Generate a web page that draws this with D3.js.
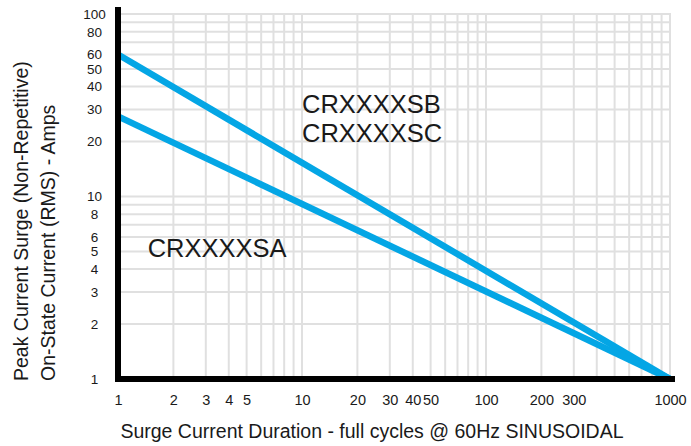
<!DOCTYPE html>
<html>
<head>
<meta charset="utf-8">
<script src="https://cdn.jsdelivr.net/npm/d3@7"></script>
<style>
  html, body { margin: 0; padding: 0; background: #ffffff; }
  svg { display: block; }
  text { font-family: "Liberation Sans", Arial, sans-serif; fill: #1a1a1a; }
</style>
</head>
<body>
<svg id="chart" width="691" height="446"></svg>
<script>
// ---- data ----
const xTickLabels = [1, 2, 3, 4, 5, 10, 20, 30, 40, 50, 100, 200, 300, 1000];
const yTickLabels = [1, 2, 3, 4, 5, 6, 8, 10, 20, 30, 40, 50, 60, 80, 100];
const seriesNames = ["CRXXXXSB / CRXXXXSC", "CRXXXXSA"];
const seriesCycles = [1, 1000];
const seriesSB_SC = [60, 1];
const seriesSA = [27.5, 1];
const lineLabels = ["CRXXXXSB", "CRXXXXSC", "CRXXXXSA"];
const xTitle = "Surge Current Duration - full cycles @ 60Hz SINUSOIDAL";
const yTitle = ["Peak Current Surge (Non-Repetitive)", "On-State Current (RMS) - Amps"];

// ---- layout ----
const W = 691, H = 446;
const L = 118, R = 670, T = 14, B = 379;
const svg = d3.select("#chart");

const x = d3.scaleLog().domain([1, 1000]).range([L, R]);
const y = d3.scaleLog().domain([1, 100]).range([B, T]);

// minor grid values 1..9 per decade
function gridVals(maxV) {
  const v = [];
  for (let d = 1; d < maxV; d *= 10) for (let k = 1; k <= 9; k++) v.push(k * d);
  v.push(maxV);
  return v;
}
const gx = gridVals(1000), gy = gridVals(100);

const grid = svg.append("g").attr("stroke", "#e0e0e0").attr("stroke-width", 2);
grid.selectAll("line.v").data(gx.filter(d => d > 1)).join("line")
  .attr("class", "v")
  .attr("x1", d => x(d)).attr("x2", d => x(d))
  .attr("y1", T - 1).attr("y2", B);
grid.selectAll("line.h").data(gy.filter(d => d > 1)).join("line")
  .attr("class", "h")
  .attr("x1", L).attr("x2", R + 1)
  .attr("y1", d => y(d)).attr("y2", d => y(d));

// series lines
const lineGen = d3.line().x(d => x(d[0])).y(d => y(d[1]));
const series = [seriesSB_SC, seriesSA].map(vals => seriesCycles.map((c, i) => [c, vals[i]]));
svg.append("g").selectAll("path").data(series).join("path")
  .attr("d", lineGen)
  .attr("fill", "none")
  .attr("stroke", "#04a6e5")
  .attr("stroke-width", 6.5);

// thick axis lines
svg.append("line").attr("x1", x(1)).attr("x2", x(1)).attr("y1", 7).attr("y2", B + 3)
  .attr("stroke", "#000").attr("stroke-width", 6);
svg.append("line").attr("x1", x(1) - 3).attr("x2", R + 5).attr("y1", B).attr("y2", B)
  .attr("stroke", "#000").attr("stroke-width", 6);

// tick labels via d3 axes
const xAxis = d3.axisBottom(x).tickValues(xTickLabels).tickFormat(d3.format("d")).tickSize(0).tickPadding(0);
const gxA = svg.append("g").attr("transform", `translate(0,${B + 16})`).call(xAxis);
gxA.select(".domain").remove();
gxA.selectAll("text").attr("font-size", 14.5).attr("font-family", null).attr("fill", "#1a1a1a");

const yAxis = d3.axisLeft(y).tickValues(yTickLabels).tickFormat(d3.format("d")).tickSize(0).tickPadding(0);
const gyA = svg.append("g").attr("transform", `translate(94.5,0)`).call(yAxis);
gyA.select(".domain").remove();
gyA.selectAll("text").attr("font-size", 13.5).attr("font-family", null).attr("fill", "#1a1a1a")
  .attr("text-anchor", "middle");

// axis titles
svg.append("text").attr("x", 372).attr("y", 438).attr("text-anchor", "middle")
  .attr("font-size", 19.5).text(xTitle);
yTitle.forEach((t, i) => {
  svg.append("text").attr("transform", `translate(${28 + i * 27},381) rotate(-90)`)
    .attr("text-anchor", "start").attr("font-size", 19.5).text(t);
});

// line labels (positioned in data coordinates)
const lab = [
  { t: lineLabels[0], cx: 10, cy: 28.7 },
  { t: lineLabels[1], cx: 10, cy: 20 },
  { t: lineLabels[2], cx: 1.45, cy: 4.68 }
];
svg.append("g").selectAll("text").data(lab).join("text")
  .attr("x", d => x(d.cx)).attr("y", d => y(d.cy))
  .attr("font-size", 25.5).text(d => d.t);
</script>
</body>
</html>
